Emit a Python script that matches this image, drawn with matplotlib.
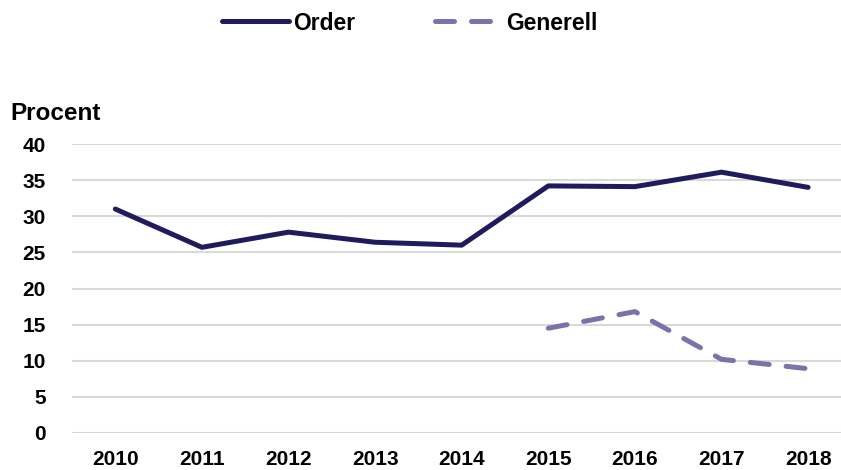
import matplotlib
matplotlib.use('Agg')
import matplotlib.pyplot as plt
from matplotlib.lines import Line2D

plt.rcParams['font.family'] = ['Liberation Sans', 'DejaVu Sans']
plt.rcParams['font.weight'] = 'bold'

years = ['2010', '2011', '2012', '2013', '2014', '2015', '2016', '2017', '2018']
order = [31.0, 25.7, 27.8, 26.4, 26.0, 34.2, 34.1, 36.1, 34.0]
generell_years = ['2015', '2016', '2017', '2018']
generell = [14.5, 16.8, 10.2, 8.9]

c_order = '#201b5c'
c_gen = '#7a73aa'

fig = plt.figure(figsize=(8.41, 4.70), dpi=100)
ax = fig.add_axes([72 / 841, 37 / 470, 769 / 841, 289 / 470])

xpos = list(range(len(years)))
gpos = [years.index(y) for y in generell_years]

ax.plot(xpos, order, color=c_order, lw=3.6, solid_capstyle='round',
        solid_joinstyle='round', zorder=3)
ax.plot(gpos, generell, color=c_gen, lw=3.6, dashes=(3.8, 3.4),
        dash_capstyle='round', zorder=3)

ax.set_xlim(-0.5, 8.38)
ax.set_ylim(0, 40)
ax.set_yticks(range(0, 41, 5))
ax.set_xticks(xpos)
ax.set_xticklabels(years)
ax.yaxis.grid(True, color='#d9d9d9', lw=1.5)
ax.set_axisbelow(True)
for s in ax.spines.values():
    s.set_visible(False)
ax.tick_params(axis='both', length=0, labelsize=15)
ax.tick_params(axis='y', pad=19)
ax.tick_params(axis='x', pad=12)
for lab in ax.get_xticklabels() + ax.get_yticklabels():
    lab.set_fontweight('bold')

fig.text(10 / 841, 1 - 113 / 470, 'Procent', fontsize=17.5, fontweight='bold',
         va='center', ha='left')

handles = [Line2D([], [], color=c_order, lw=3.6, solid_capstyle='round'),
           Line2D([], [], color=c_gen, lw=3.6, dashes=(3.8, 3.4), dash_capstyle='round')]
fig.legend(handles, ['Order', 'Generell'], loc='center', bbox_to_anchor=(410 / 841, 1 - 23 / 470),
           ncol=2, frameon=False, handlelength=2.9, handletextpad=0.2,
           columnspacing=3.5, prop={'weight': 'bold', 'size': 16.5})

fig.savefig('out.png', dpi=100)
